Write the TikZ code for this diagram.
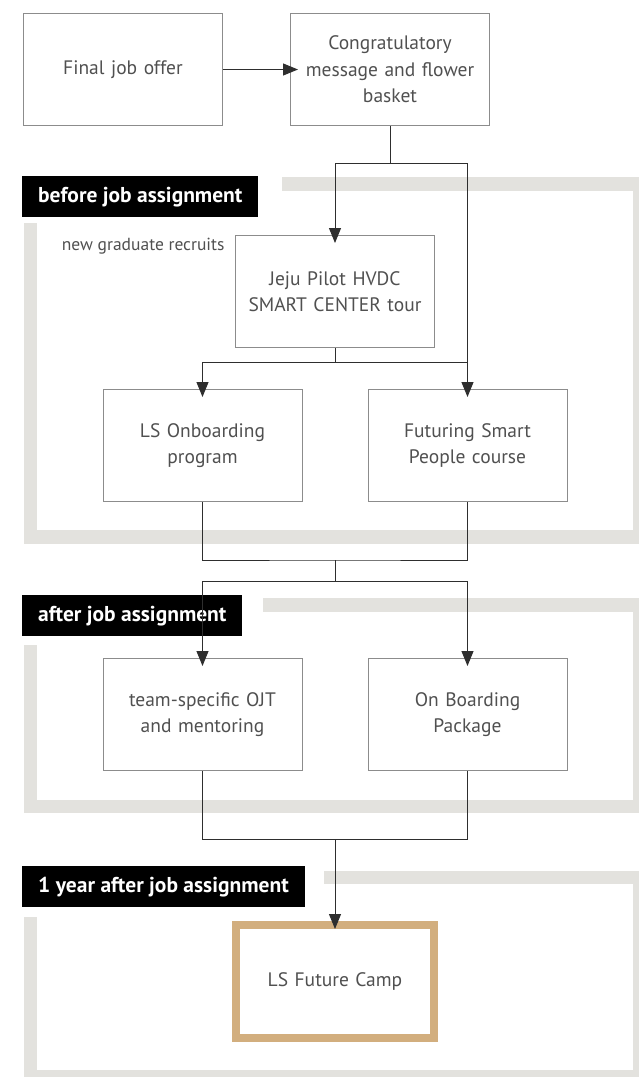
\documentclass[tikz,border=0pt]{standalone}
\usepackage{fontspec}
\setmainfont{PT Sans}
\usetikzlibrary{arrows.meta,positioning,calc}
\definecolor{framegray}{HTML}{E3E2DE}
\definecolor{boxline}{HTML}{8C8C8C}
\definecolor{connline}{HTML}{2E2E2E}
\definecolor{bodytext}{HTML}{505050}
\definecolor{campgold}{HTML}{D2AE7E}

\begin{document}
\begin{tikzpicture}[x=1pt, y=-1pt,
  box/.style={rectangle, draw=boxline, line width=1pt, minimum width=199pt, minimum height=112pt, inner sep=0pt, text width=190pt, align=center, text=bodytext, font=\fontsize{19.5}{26.5}\selectfont},
  campbox/.style={box, draw=campgold, line width=8pt, minimum width=198pt, minimum height=113pt},
  phase/.style={rectangle, fill=black, text=white, anchor=north west, minimum height=41pt, inner xsep=16pt, inner ysep=0pt, font=\fontsize{21.5}{24}\selectfont\bfseries},
  frame/.style={draw=framegray, line width=13.5pt, line join=miter},
  link/.style={draw=connline, line width=1pt},
  arr/.style={link, -{Triangle[length=15pt, width=12pt]}, shorten >=-8pt}
]
  \useasboundingbox (0,0) rectangle (638,1077);

  % gray phase frames
  \draw[frame] (282,184) -- (639.5,184) -- (639.5,537) -- (30.5,537) -- (30.5,223);
  \draw[frame] (263,605) -- (639.5,605) -- (639.5,806.5) -- (30.5,806.5) -- (30.5,645);
  \draw[frame] (324,877.5) -- (639.5,877.5) -- (639.5,1076.5) -- (30.5,1076.5) -- (30.5,917);

  \node[phase] (before) at (22,176) {before job assignment};
  \node[phase] (after) at (22,595) {after job assignment};
  \node[phase] (year) at (22,866) {1 year after job assignment};

  \node[box] (offer) at (123,69.5) {Final job offer};
  \node[box] (congrats) at (390,69.5) {Congratulatory\\message and flower\\basket};
  \node[box] (jeju) at (335,291.5) {Jeju Pilot HVDC\\SMART CENTER tour};
  \node[anchor=east, text=bodytext, font=\fontsize{17.5}{20}\selectfont] (recruits) at (228,246) {new graduate recruits};
  \node[box] (onboard) at (202.5,445.5) {LS Onboarding\\program};
  \node[box] (futur) at (467.5,445.5) {Futuring Smart\\People course};
  \node[box] (ojt) at (202.5,714.5) {team-specific OJT\\and mentoring};
  \node[box] (pack) at (467.5,714.5) {On Boarding\\Package};
  \node[campbox] (camp) at (335,981.5) {LS Future Camp};

  \coordinate (j1) at (0,163);
  \coordinate (j2) at (0,362);
  \coordinate (j3) at (335,560);
  \coordinate (j4) at (335,581);
  \coordinate (j5) at (335,839);

  \draw[arr] (offer.east) -- (congrats.west);
  \draw[arr] (congrats.south) -- (congrats.south |- j1) -| (jeju.north);
  \draw[arr] (congrats.south |- j1) -| (futur.north);
  \draw[arr] (jeju.south) -- (jeju.south |- j2) -| (onboard.north);
  \draw[link] (jeju.south |- j2) -- (futur.north |- j2);
  \draw[link] (onboard.south) |- (j3) -| (futur.south);
  \draw[arr] (j3) -- (j4) -| (ojt.north);
  \draw[arr] (j4) -| (pack.north);
  \draw[link] (ojt.south) |- (j5) -| (pack.south);
  \draw[arr] (j5) -- (camp.north);
\end{tikzpicture}
\end{document}
